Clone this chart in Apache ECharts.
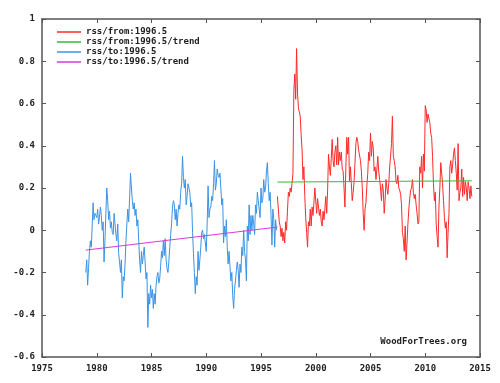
<!DOCTYPE html>
<html><head><meta charset="utf-8">
<script src="https://cdn.jsdelivr.net/npm/echarts@6/dist/echarts.min.js"></script>
<style>html,body{margin:0;padding:0;background:#fff}#c{width:500px;height:383px}</style>
</head><body><div id="c"></div>
<script>
// Legend names
const seriesNames = ['rss/from:1996.5', 'rss/from:1996.5/trend', 'rss/to:1996.5', 'rss/to:1996.5/trend'];

// Monthly RSS anomalies, Jan 1979 .. Jun 1996 (x = 1979 + i/12)
const blueStart = 1979.0;
const blueValues = [
  -0.20,-0.14,-0.26,-0.18,-0.10,-0.05,-0.08,0.02,0.13,0.05,0.08,0.07,
  0.06,0.10,0.03,0.06,0.11,0.07,0.00,0.04,-0.15,-0.05,0.08,0.20,
  0.14,0.05,0.09,0.01,0.04,-0.01,-0.02,0.08,0.03,-0.02,-0.05,0.03,
  -0.11,-0.15,-0.20,-0.14,-0.32,-0.22,-0.24,-0.16,-0.05,0.03,0.10,0.04,
  0.15,0.27,0.20,0.14,0.10,0.13,0.07,0.10,0.02,0.05,-0.05,-0.14,
  -0.20,-0.10,-0.16,-0.12,-0.08,-0.15,-0.23,-0.20,-0.46,-0.30,-0.35,-0.26,
  -0.32,-0.28,-0.37,-0.30,-0.35,-0.26,-0.22,-0.20,-0.25,-0.23,-0.17,-0.10,
  -0.13,-0.05,-0.12,-0.04,-0.14,-0.18,-0.20,-0.15,-0.08,-0.02,0.03,0.11,
  0.14,0.12,0.05,0.10,0.02,0.08,0.12,0.10,0.18,0.22,0.35,0.25,
  0.20,0.24,0.12,0.16,0.22,0.20,0.18,0.11,0.13,-0.01,-0.11,-0.20,
  -0.30,-0.22,-0.26,-0.10,-0.19,-0.14,-0.08,-0.01,0.00,-0.04,-0.02,-0.02,
  -0.10,0.03,0.21,0.06,0.10,0.11,0.16,0.14,0.22,0.33,0.19,0.22,
  0.29,0.26,0.25,0.27,0.20,0.12,0.15,-0.06,0.02,-0.03,0.05,-0.08,
  -0.16,-0.10,-0.17,-0.24,-0.20,-0.31,-0.37,-0.28,-0.24,-0.19,-0.15,-0.19,
  -0.27,-0.16,-0.20,-0.08,-0.12,0.00,-0.10,-0.14,-0.24,0.02,-0.05,0.12,
  -0.02,0.07,0.00,0.07,0.03,-0.02,0.12,0.08,0.18,0.14,0.10,0.06,
  0.20,0.13,0.15,0.24,0.18,0.20,0.28,0.32,0.22,0.14,0.18,0.07,
  -0.07,0.10,0.05,-0.08,0.05,0.00
];

// Monthly RSS anomalies, Jul 1996 .. Apr 2014 (x = 1996.5 + i/12)
const redStart = 1996.5;
const redValues = [
  0.16,0.10,0.04,0.02,-0.03,0.01,
  -0.05,-0.01,-0.06,0.04,0.00,0.09,0.18,0.16,0.20,0.18,0.22,0.27,
  0.66,0.74,0.62,0.86,0.65,0.58,0.56,0.54,0.45,0.38,0.24,0.30,
  0.16,0.06,-0.01,-0.08,0.04,0.02,0.10,0.02,0.11,0.07,0.13,0.20,
  0.20,0.08,0.15,0.11,0.07,0.10,0.04,0.02,0.09,0.05,0.10,0.16,
  0.08,0.19,0.36,0.30,0.26,0.34,0.43,0.33,0.30,0.37,0.40,0.31,
  0.44,0.31,0.37,0.33,0.37,0.29,0.28,0.20,0.11,0.30,0.44,0.36,
  0.44,0.23,0.30,0.22,0.14,0.18,0.23,0.32,0.41,0.44,0.42,0.38,
  0.38,0.33,0.28,0.20,0.08,0.00,0.10,0.13,0.21,0.27,0.37,0.33,
  0.46,0.35,0.42,0.39,0.28,0.30,0.24,0.29,0.35,0.28,0.24,0.20,
  0.14,0.22,0.19,0.08,0.14,0.24,0.20,0.17,0.22,0.30,0.35,0.41,
  0.54,0.35,0.33,0.30,0.23,0.22,0.26,0.20,0.19,0.17,0.12,-0.01,
  -0.04,-0.10,0.02,-0.14,-0.06,0.03,0.10,0.15,0.19,0.20,0.24,0.18,
  0.15,0.17,0.12,0.08,0.03,0.04,0.30,0.27,0.35,0.20,0.36,0.28,
  0.59,0.57,0.51,0.55,0.55,0.51,0.46,0.44,0.35,0.22,0.14,0.18,
  0.03,-0.03,-0.08,0.11,0.20,0.32,0.27,0.22,0.14,0.06,0.01,0.04,
  -0.13,-0.01,0.08,0.30,0.33,0.27,0.31,0.36,0.39,0.33,0.27,0.19,
  0.41,0.14,0.18,0.20,0.29,0.16,0.25,0.17,0.23,0.20,0.14,0.23,
  0.20,0.15,0.21,0.16
];

// Trend line endpoints
const blueTrendX = [1979.0, 1996.5];
const blueTrendY = [-0.094, 0.015];
const redTrendX = [1996.5, 2014.25];
const redTrendY = [0.228, 0.234];

// Axis ranges
const xMin = 1975, xMax = 2015, xStep = 5;
const yMin = -0.6, yMax = 1, yStep = 0.2;

const colors = ['#ff2a2a', '#33bb33', '#3a94e6', '#d63cd6'];
const FONT = '"DejaVu Sans Mono", monospace';

function monthly(start, vals) { return vals.map((v, i) => [start + i / 12, v]); }
function pairs(xs, ys) { return xs.map((x, i) => [x, ys[i]]); }

const axisCol = '#555';
const chart = echarts.init(document.getElementById('c'), null, {renderer: 'canvas'});
const baseX = {
  type: 'value', min: xMin, max: xMax, interval: xStep,
  axisLine: {show: true, onZero: false, lineStyle: {color: axisCol, width: 1.5}},
  axisTick: {show: true, inside: true, length: 4, lineStyle: {color: axisCol}},
  splitLine: {show: false}
};
const baseY = {
  type: 'value', min: yMin, max: yMax, interval: yStep,
  axisLine: {show: true, onZero: false, lineStyle: {color: axisCol, width: 1.5}},
  axisTick: {show: true, inside: true, length: 4, lineStyle: {color: axisCol}},
  splitLine: {show: false}
};
chart.setOption({
  animation: false,
  backgroundColor: '#fff',
  grid: {left: 42, top: 19, right: 20, bottom: 26, containLabel: false},
  xAxis: [
    Object.assign({}, baseX, {position: 'bottom', axisLabel: {show: true, margin: 7, color: '#222', fontSize: 9, fontWeight: 'bold', fontFamily: FONT, formatter: v => String(v)}}),
    Object.assign({}, baseX, {position: 'top', axisLabel: {show: false}})
  ],
  yAxis: [
    Object.assign({}, baseY, {position: 'left', axisLabel: {show: true, margin: 7, color: '#222', fontSize: 9, fontWeight: 'bold', fontFamily: FONT, formatter: v => String(Math.round(v * 10) / 10)}}),
    Object.assign({}, baseY, {position: 'right', axisLabel: {show: false}})
  ],
  legend: {
    orient: 'vertical', left: 52, top: 22, itemWidth: 24, itemHeight: 1.5, itemGap: 0,
    icon: 'rect', data: seriesNames,
    textStyle: {fontSize: 9, lineHeight: 10, fontWeight: 'bold', fontFamily: FONT, color: '#222'}
  },
  graphic: [{
    type: 'text', right: 33, top: 337,
    style: {text: 'WoodForTrees.org', font: 'bold 9px ' + FONT, fill: '#222'}
  }],
  series: [
    {name: seriesNames[0], type: 'line', data: monthly(redStart, redValues), showSymbol: false, color: colors[0], lineStyle: {width: 1}},
    {name: seriesNames[1], type: 'line', data: pairs(redTrendX, redTrendY), showSymbol: false, color: colors[1], lineStyle: {width: 1}},
    {name: seriesNames[2], type: 'line', data: monthly(blueStart, blueValues), showSymbol: false, color: colors[2], lineStyle: {width: 1}},
    {name: seriesNames[3], type: 'line', data: pairs(blueTrendX, blueTrendY), showSymbol: false, color: colors[3], lineStyle: {width: 1}}
  ]
});
</script></body></html>
